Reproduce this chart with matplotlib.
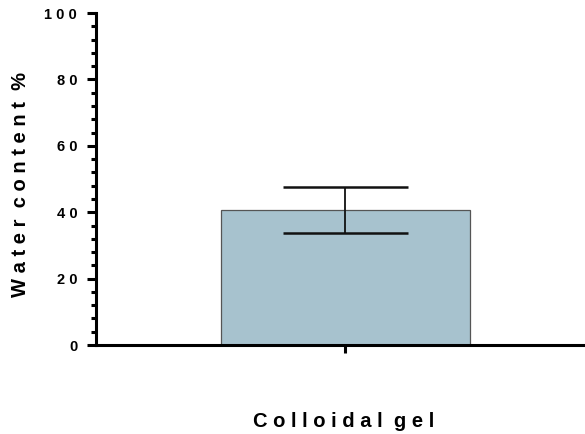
import matplotlib
matplotlib.use("Agg")
import matplotlib.pyplot as plt
from matplotlib.ticker import MultipleLocator, FixedLocator

plt.rcParams["font.family"] = ["Liberation Sans", "DejaVu Sans"]

categories = ["Colloidal gel"]
means = [40.7]
errors = [7.0]
y_ticks = [0, 20, 40, 60, 80, 100]


def spaced(s):
    # Prism-style letter spacing: one space between letters, wider between words
    return "  ".join(" ".join(w) for w in s.split(" "))


fig = plt.figure(figsize=(5.85, 4.34), dpi=100)
ax = fig.add_axes([0.164, 0.205, 0.836, 0.765])

ax.bar(range(len(categories)), means, width=1.0, color="#a7c2ce",
       edgecolor="#555555", linewidth=0.9, zorder=2)
ax.errorbar(range(len(categories)), means, yerr=errors, fmt="none",
            ecolor="#111111", elinewidth=1.3, capsize=45, capthick=1.8, zorder=3)

ax.set_xlim(-1.0, 0.96)
ax.set_ylim(0, 100)
ax.yaxis.set_major_locator(FixedLocator(y_ticks))
ax.yaxis.set_minor_locator(MultipleLocator(4))
ax.set_yticklabels([spaced(str(t)) for t in y_ticks], fontsize=10.5, fontweight="bold")
ax.set_xticks(range(len(categories)))
ax.set_xticklabels([""])

for side in ("top", "right"):
    ax.spines[side].set_visible(False)
for side in ("left", "bottom"):
    ax.spines[side].set_linewidth(2.2)
    ax.spines[side].set_color("black")

ax.tick_params(axis="y", which="major", length=6.5, width=2.2, pad=7)
ax.tick_params(axis="y", which="minor", length=3.5, width=2.2)
ax.tick_params(axis="x", which="major", length=6, width=2.2)

ax.set_ylabel(spaced("Water content %"), fontsize=14.5, fontweight="bold")
ax.yaxis.set_label_coords(-0.135, 0.485)
ax.set_xlabel(spaced("Colloidal gel"), fontsize=14.5, fontweight="bold")
ax.xaxis.set_label_coords(0.506, -0.203)

fig.savefig("out.png", dpi=100, facecolor="white")
